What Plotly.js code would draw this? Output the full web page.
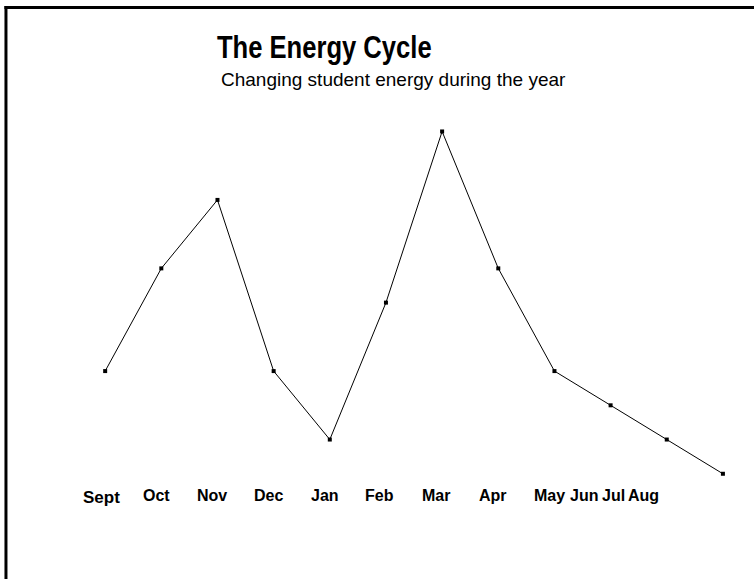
<!DOCTYPE html>
<html>
<head>
<meta charset="utf-8">
<script src="https://cdn.plot.ly/plotly-3.0.1.min.js"></script>
<style>html,body{margin:0;padding:0;background:#fff;}#chart{width:754px;height:579px;}</style>
</head>
<body>
<div id="chart"></div>
<script>
// Data
const months = ["Sept","Oct","Nov","Dec","Jan","Feb","Mar","Apr","May","Jun","Jul","Aug"];
const energy = [4, 7, 9, 4, 2, 6, 11, 7, 4, 3, 2, 1];
const titleText = "The Energy Cycle";
const subtitleText = "Changing student energy during the year";

// Layout constants (label placement as in the original chart)
const labelPos = [-0.06, 0.92, 1.91, 2.9, 3.91, 4.89, 5.89, 6.91, 7.92, 8.52, 9.06, 9.58];

const xIdx = months.map((m, i) => i);

const trace = {
  x: xIdx,
  y: energy,
  type: "scatter",
  mode: "lines+markers",
  line: {color: "#000", width: 1},
  marker: {symbol: "square", size: 4, color: "#000"},
  hoverinfo: "none",
  cliponaxis: false
};

const annotations = months.map((m, i) => ({
  x: labelPos[i], xref: "x",
  y: 0.027, yref: "paper",
  text: "<b>" + m + "</b>",
  showarrow: false,
  xanchor: "center", yanchor: "middle",
  yshift: i === 0 ? -2 : 0,
  font: {family: "Liberation Sans, Arial, sans-serif", size: i === 0 ? 17 : 16, color: "#000"}
}));

annotations.push({
  x: 0.392, xref: "paper", y: 1.037, yref: "paper",
  text: "<b>" + titleText + "</b>", showarrow: false,
  xanchor: "center", yanchor: "middle",
  font: {family: "Liberation Sans, Arial, sans-serif", size: 32, color: "#000"}
});
annotations.push({
  x: 0.491, xref: "paper", y: 0.964, yref: "paper",
  text: subtitleText, showarrow: false,
  xanchor: "center", yanchor: "middle",
  font: {family: "Liberation Sans, Arial, sans-serif", size: 19, color: "#000"}
});

const layout = {
  width: 754, height: 579,
  margin: {l: 49, r: 3, t: 63, b: 71},
  paper_bgcolor: "#fff", plot_bgcolor: "#fff",
  showlegend: false,
  xaxis: {range: [-1, 11.5], visible: false, showgrid: false, zeroline: false, fixedrange: true},
  yaxis: {range: [0, 13], visible: false, showgrid: false, zeroline: false, fixedrange: true},
  annotations: annotations,
  shapes: [
    {type: "line", xref: "paper", yref: "paper", x0: -0.0613, x1: -0.0613, y0: 1.128, y1: -0.2, line: {color: "#000", width: 3}},
    {type: "line", xref: "paper", yref: "paper", x0: -0.0635, x1: 1.01, y0: 1.1245, y1: 1.1245, line: {color: "#000", width: 3}}
  ]
};

Plotly.newPlot("chart", [trace], layout, {staticPlot: true, displayModeBar: false}).then(function (gd) {
  // The original title uses a condensed bold face; narrow the title text horizontally.
  const texts = gd.querySelectorAll(".annotation-text");
  texts.forEach(function (t) {
    if (t.textContent === titleText) {
      t.style.transformBox = "fill-box";
      t.style.transformOrigin = "center";
      t.style.transform = "scaleX(0.8)";
    }
  });
});
</script>
</body>
</html>
